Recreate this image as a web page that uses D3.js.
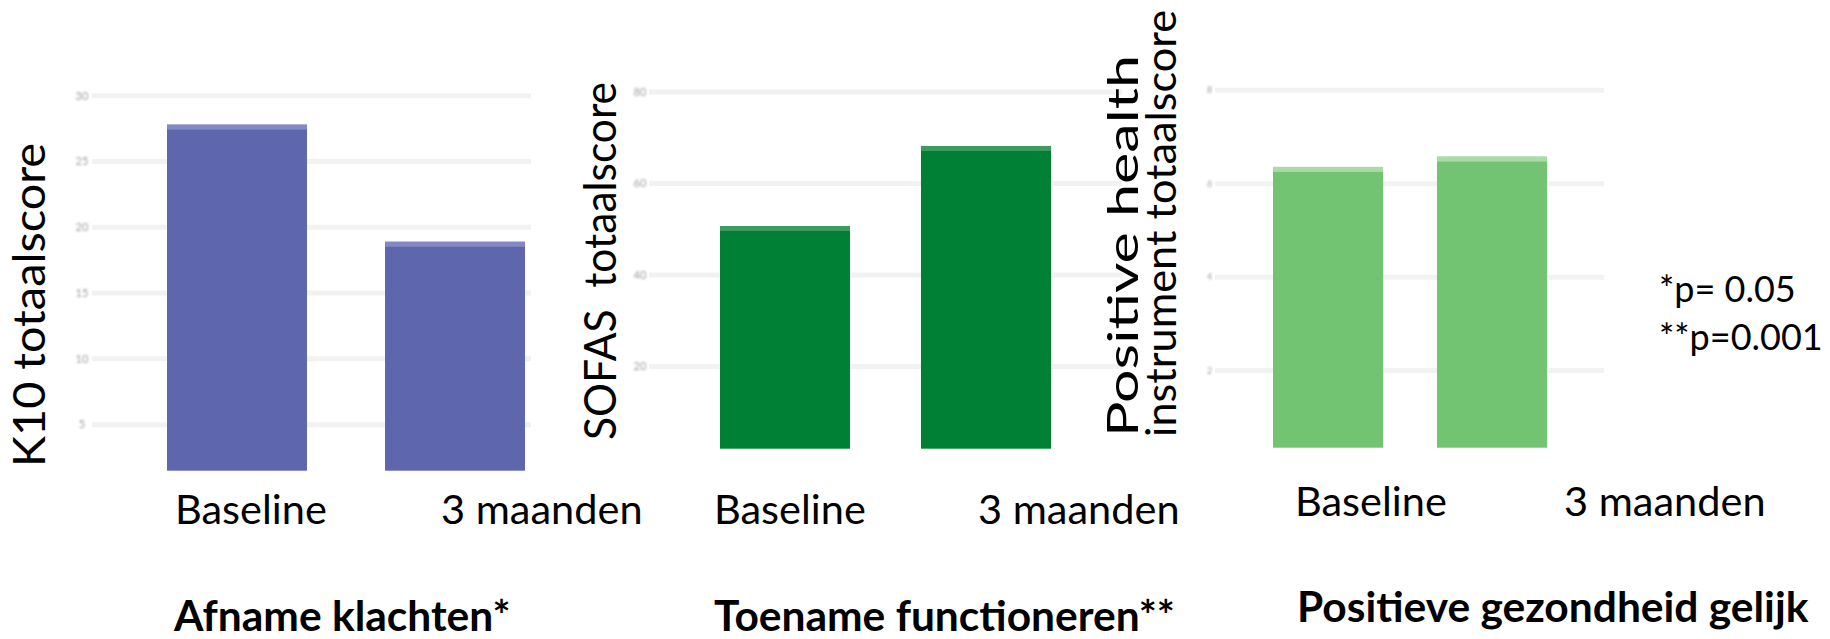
<!DOCTYPE html>
<html>
<head>
<meta charset="utf-8">
<script src="https://cdn.jsdelivr.net/npm/d3@7"></script>
<style>
  html, body { margin: 0; padding: 0; background: #fff; }
  svg { display: block; font-family: Lato, "Open Sans", sans-serif; }
</style>
</head>
<body>
<div id="chart"></div>
<script>
// Data (tick labels are illegible, values estimated)
const categories = ["Baseline", "3 maanden"];

const k10Values = [27.8, 18.9];
const sofasValues = [50.7, 68.2];
const phiValues = [6.36, 6.58];

const k10Ticks = [5, 10, 15, 20, 25, 30];
const sofasTicks = [20, 40, 60, 80];
const phiTicks = [2, 4, 6, 8];

const panelTitles = ["Afname klachten*", "Toename functioneren**", "Positieve gezondheid gelijk"];
const yTitles = [["K10 totaalscore"], ["SOFAS  totaalscore"], ["Positive health", "instrument totaalscore"]];
const footnotes = ["*p= 0.05", "**p=0.001"];

const width = 1830, height = 639;

const svg = d3.select("#chart")
    .append("svg")
    .attr("width", width)
    .attr("height", height);

// soft blur for the tiny tick labels
svg.append("defs").append("filter")
    .attr("id", "blur")
    .append("feGaussianBlur")
    .attr("stdDeviation", 0.9);

// Layout of each panel (pixel boxes)
const panels = [
    {
        values: k10Values, ticks: k10Ticks, domain: [1.5, 30],
        yRange: [470.7, 95.7], barRange: [167, 525], padInner: 0.358,
        gridX: [92, 531], tickX: 82, tickSize: 11,
        color: "#5e67ae", top: "#8389c2",
        labelX: [175, 441], labelY: 524,
        titleX: 174, titleY: 631,
        yTitle: { x: 45, y: 305, anchor: "middle", size: 44, gap: 0, lengths: [324] }
    },
    {
        values: sofasValues, ticks: sofasTicks, domain: [2, 80],
        yRange: [448.7, 92], barRange: [720, 1051], padInner: 0.353,
        gridX: [649, 1122], tickX: 640, tickSize: 11,
        color: "#008035", top: "#3d9a60",
        labelX: [714, 978], labelY: 524,
        titleX: 714, titleY: 631,
        yTitle: { x: 616, y: 261, anchor: "middle", size: 44, gap: 0, lengths: [358] }
    },
    {
        values: phiValues, ticks: phiTicks, domain: [0.35, 8],
        yRange: [447.7, 90.3], barRange: [1273, 1547], padInner: 0.329,
        gridX: [1215, 1604], tickX: 1209.5, tickSize: 9,
        color: "#72c472", top: "#a9dba7",
        labelX: [1295, 1564], labelY: 516,
        titleX: 1297, titleY: 622,
        yTitle: { x: 1138, y: 437, anchor: "start", size: 43, gap: 38, lengths: [382, 427] }
    }
];

panels.forEach((p, i) => {
    const g = svg.append("g");

    const y = d3.scaleLinear().domain(p.domain).range(p.yRange);
    const x = d3.scaleBand()
        .domain(categories)
        .range(p.barRange)
        .paddingInner(p.padInner)
        .paddingOuter(0);

    // gridlines
    g.selectAll(".grid")
        .data(p.ticks)
        .enter()
        .append("line")
        .attr("x1", p.gridX[0])
        .attr("x2", p.gridX[1])
        .attr("y1", d => y(d))
        .attr("y2", d => y(d))
        .attr("stroke", "#f2f2f2")
        .attr("stroke-width", 5);

    // tiny (blurred) tick labels
    g.selectAll(".tick")
        .data(p.ticks)
        .enter()
        .append("text")
        .attr("x", p.tickX)
        .attr("y", d => y(d))
        .attr("dy", "0.35em")
        .attr("text-anchor", "middle")
        .attr("font-size", p.tickSize)
        .attr("fill", "#a0a0a0")
        .attr("filter", "url(#blur)")
        .text(d => d);

    // bars
    g.selectAll(".bar")
        .data(p.values)
        .enter()
        .append("rect")
        .attr("x", (d, j) => x(categories[j]))
        .attr("y", d => y(d))
        .attr("width", x.bandwidth())
        .attr("height", d => y(p.domain[0]) - y(d))
        .attr("fill", p.color);

    // lighter strip on top of each bar
    g.selectAll(".bartop")
        .data(p.values)
        .enter()
        .append("rect")
        .attr("x", (d, j) => x(categories[j]))
        .attr("y", d => y(d))
        .attr("width", x.bandwidth())
        .attr("height", 5)
        .attr("fill", p.top);

    // category labels
    g.selectAll(".cat")
        .data(categories)
        .enter()
        .append("text")
        .attr("x", (d, j) => p.labelX[j])
        .attr("y", p.labelY)
        .attr("font-size", 41.5)
        .attr("fill", "#000")
        .text(d => d);

    // y axis title (rotated)
    const yt = p.yTitle;
    yTitles[i].forEach((line, k) => {
        g.append("text")
            .attr("transform", `translate(${yt.x + k * yt.gap},${yt.y}) rotate(-90)`)
            .attr("text-anchor", yt.anchor)
            .attr("font-size", yt.size)
            .attr("textLength", yt.lengths[k])
            .attr("lengthAdjust", "spacingAndGlyphs")
            .style("white-space", "pre")
            .attr("fill", "#000")
            .text(line);
    });

    // panel title
    g.append("text")
        .attr("x", p.titleX)
        .attr("y", p.titleY)
        .attr("font-size", 42.5)
        .attr("font-weight", "bold")
        .attr("fill", "#000")
        .text(panelTitles[i]);
});

// footnotes with p-values
svg.selectAll(".note")
    .data(footnotes)
    .enter()
    .append("text")
    .attr("x", 1659)
    .attr("y", (d, i) => 302 + i * 48)
    .attr("font-size", 36)
    .attr("fill", "#000")
    .text(d => d);
</script>
</body>
</html>
